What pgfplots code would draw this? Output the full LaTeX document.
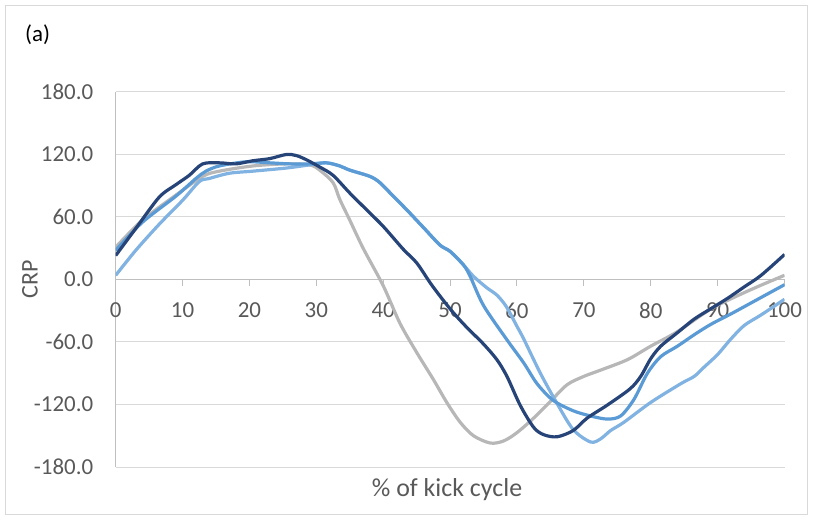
\documentclass[border=0pt]{standalone}
\usepackage{fontspec}
\setmainfont{Carlito}
\usepackage{pgfplots}
\pgfplotsset{compat=1.18}
\definecolor{navy}{HTML}{264478}
\definecolor{midblue}{HTML}{5B9BD5}
\definecolor{lightblue}{HTML}{80B2E2}
\definecolor{crpgray}{HTML}{B7B7B7}
\definecolor{txtgray}{HTML}{595959}
\definecolor{gridgray}{HTML}{D9D9D9}
\definecolor{axisgray}{HTML}{BFBFBF}

\begin{document}
\begin{tikzpicture}
\useasboundingbox (0bp,0bp) rectangle (813bp,520bp);
\draw[gridgray, line width=1.2bp] (5.5bp,5.5bp) rectangle (807.5bp,514.5bp);
\node[anchor=base west, inner sep=0pt, font=\fontsize{23}{27}\selectfont] at (25bp,478bp) {(a)};
\node[txtgray, font=\fontsize{26}{30}\selectfont] at (447bp,30bp) {\% of kick cycle};
\node[txtgray, rotate=90, font=\fontsize{24}{28}\selectfont] at (30bp,241bp) {CRP};
\begin{axis}[
  at={(115.7bp,53bp)}, anchor=south west,
  scale only axis, width=668.8bp, height=375bp,
  xmin=0, xmax=100, ymin=-180, ymax=180,
  axis x line*=middle, axis y line*=left,
  hide obscured x ticks=false,
  axis line style={axisgray, line width=1bp, -},
  xtick={0,10,...,100}, ytick={-180,-120,...,180},
  ymajorgrids, grid style={gridgray, line width=1bp},
  tick align=outside, major tick length=6bp,
  xtick style={axisgray, line width=1bp},
  ytick style={draw=none},
  ticklabel style={txtgray, font=\fontsize{23}{27}\selectfont},
  xticklabel style={yshift=-14bp},
  yticklabel style={xshift=-13bp},
  /pgf/number format/assume math mode=true,
  yticklabel={\pgfmathprintnumber[fixed, fixed zerofill, precision=1]{\tick}},
  xticklabel={\pgfmathprintnumber[fixed, precision=0]{\tick}},
  every axis plot/.append style={line width=3.2bp, smooth, no markers},
]
% gray series
\addplot[crpgray] coordinates {
(0,31) (4,57) (9,81) (13,99) (15.5,104) (20.5,109) (25.5,111) (29,110)
(30.5,105) (32.5,93) (33.5,77) (35,57) (37,30) (40,-6) (42.5,-42)
(45,-70) (47.5,-96) (49.5,-118) (51.5,-137) (53.5,-150) (56,-157)
(58,-155) (60,-147) (62.5,-133) (65,-117) (67.5,-101) (70,-93)
(72.5,-87) (76.5,-77) (80,-64) (84,-50) (88.8,-29) (92.5,-17) (96.3,-6) (100,4)
};
% light blue series
\addplot[lightblue] coordinates {
(0,4) (3,28) (6.5,53) (10,76) (12.5,94) (14,97) (17,102) (20.5,104)
(25.5,107) (29,110) (31.5,112) (33.5,109) (35,105) (38,99) (39.5,93)
(41.5,80) (43.5,67) (46,50) (48.5,33) (50,27) (52,14) (53.5,3)
(55.5,-8) (57,-15) (58.4,-26) (60,-45) (61,-57) (63.5,-90) (65.9,-118)
(68.4,-144) (71,-156) (72.5,-153) (74,-145) (76,-137) (80,-118)
(84.5,-100) (86.5,-93) (88,-84) (90,-72) (92,-57) (94,-44) (96.5,-34) (100,-19)
};
% medium blue series
\addplot[midblue] coordinates {
(0,28) (4,55) (9,80) (12,97) (13.5,104) (15.5,109) (19.5,113) (23,112)
(26,111) (29,111) (31.5,112) (33.5,109) (35,105) (38,99) (39.5,93)
(41.5,80) (43.5,67) (46,50) (48.5,33) (50,27) (52,14) (53,3) (55,-25)
(58.4,-57) (61,-80) (63,-100) (65.4,-116) (68.4,-126) (71,-131)
(73.5,-134) (75.5,-131) (77.5,-115) (79.5,-90) (81.5,-74) (84,-64)
(86.5,-53) (89,-43) (92,-33) (96,-19) (100,-5)
};
% navy series
\addplot[navy] coordinates {
(0,23) (3,49) (6.5,79) (9,91) (11,100) (13,111) (15.5,112) (18,111)
(20.5,114) (23,116) (25.5,120) (27,119) (28.5,115) (30.5,108) (32.5,100)
(35,83) (37.5,67) (40,51) (43,29) (45,16) (47,-3) (48.5,-16) (50.5,-32)
(52.5,-46) (55,-62) (57,-77) (58.5,-93) (60.5,-121) (62.5,-142) (64,-149)
(66,-151) (68.4,-145) (70.5,-133) (73.4,-121) (76.9,-105) (78.5,-93)
(80,-76) (81.5,-64) (84,-51) (86.5,-38) (89,-28) (91.5,-18) (94,-7)
(96.5,4) (100,24)
};
\end{axis}
\end{tikzpicture}
\end{document}
